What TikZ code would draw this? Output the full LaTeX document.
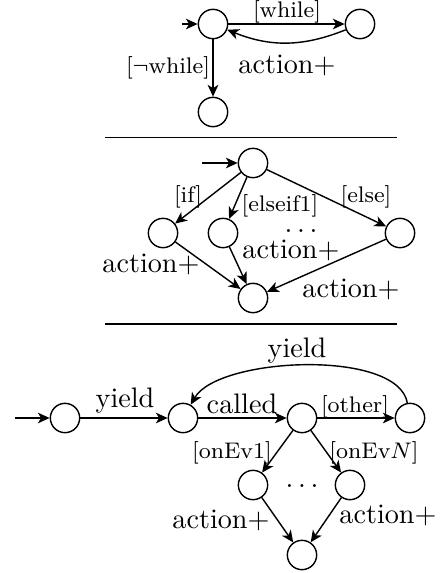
\documentclass[tikz,border=0pt]{standalone}
\usetikzlibrary{arrows.meta}
\begin{document}
\begin{tikzpicture}[x=0.3546pt,y=-0.3546pt,
  st/.style={circle,draw,line width=0.5pt,minimum size=10.4pt,inner sep=0pt},
  tr/.style={-{Stealth[length=4.2pt,width=3.8pt,inset=1.2pt]},line width=0.5pt},
  lbl/.style={font=\footnotesize,anchor=base,inner sep=0pt},
  big/.style={anchor=base,inner sep=0pt},
  sep/.style={line width=0.45pt}]
\useasboundingbox (0,0) rectangle (443,573);
% ---- top: while ----
\node[st] (a1) at (213,24) {};
\node[st] (a2) at (360,24) {};
\node[st] (a3) at (213,112) {};
\coordinate (a0) at (182,24);
\draw[tr] (a0) -- (a1);
\draw[tr] (a1) -- (a2);
\draw[tr] (a2) to[bend left=22] (a1);
\draw[tr] (a1) -- (a3);
\node[lbl] (l1) at (287,17) {[while]};
\node[big] (l2) at (287,73) {action+};
\node[lbl] (l3) at (168,73) {[$\neg$while]};
\coordinate (s1a) at (105,137.5);
\coordinate (s1b) at (397,137.5);
\draw[sep] (s1a) -- (s1b);
% ---- middle: if ----
\node[st] (b1) at (253,163) {};
\node[st] (b2) at (163,233) {};
\node[st] (b3) at (223,233) {};
\node[st] (b4) at (400,233) {};
\node[st] (b5) at (253,298) {};
\coordinate (b0) at (202,163);
\draw[tr] (b0) -- (b1);
\draw[tr] (b1) -- (b2);
\draw[tr] (b1) -- (b3);
\draw[tr] (b1) -- (b4);
\draw[tr] (b2) -- (b5);
\draw[tr] (b3) -- (b5);
\draw[tr] (b4) -- (b5);
\node[lbl] (m1) at (188,202) {[if]};
\node[lbl] (m2) at (280,211) {[elseif1]};
\node[lbl] (m3) at (366,202) {[else]};
\node[big] (m4) at (301,232) {$\ldots$};
\node[big] (m5) at (291,258) {action+};
\node[big] (m6) at (151,272) {action+};
\node[big] (m7) at (351,297) {action+};
\coordinate (s2a) at (105,324);
\coordinate (s2b) at (397,324);
\draw[sep] (s2a) -- (s2b);
% ---- bottom: coroutine ----
\node[st] (c1) at (65,418) {};
\node[st] (c2) at (183,418) {};
\node[st] (c3) at (302,418) {};
\node[st] (c4) at (410,418) {};
\node[st] (c5) at (253,485) {};
\node[st] (c6) at (350,485) {};
\node[st] (c7) at (302,555) {};
\coordinate (c0) at (15,418);
\draw[tr] (c0) -- (c1);
\draw[tr] (c1) -- (c2);
\draw[tr] (c2) -- (c3);
\draw[tr] (c3) -- (c4);
\draw[tr] (c4) to[out=100,in=60,looseness=0.65] (c2);
\draw[tr] (c3) -- (c5);
\draw[tr] (c3) -- (c6);
\draw[tr] (c5) -- (c7);
\draw[tr] (c6) -- (c7);
\node[big] (n1) at (125,407) {yield};
\node[big] (n2) at (242,413) {called};
\node[lbl] (n3) at (355,412) {[other]};
\node[big] (n4) at (297,357) {yield};
\node[lbl] (n5) at (232,458) {[onEv1]};
\node[lbl] (n6) at (374,458) {[onEv$N$]};
\node[big] (n7) at (302,487) {$\ldots$};
\node[big] (n8) at (221,528) {action+};
\node[big] (n9) at (388,523) {action+};
\end{tikzpicture}
\end{document}
